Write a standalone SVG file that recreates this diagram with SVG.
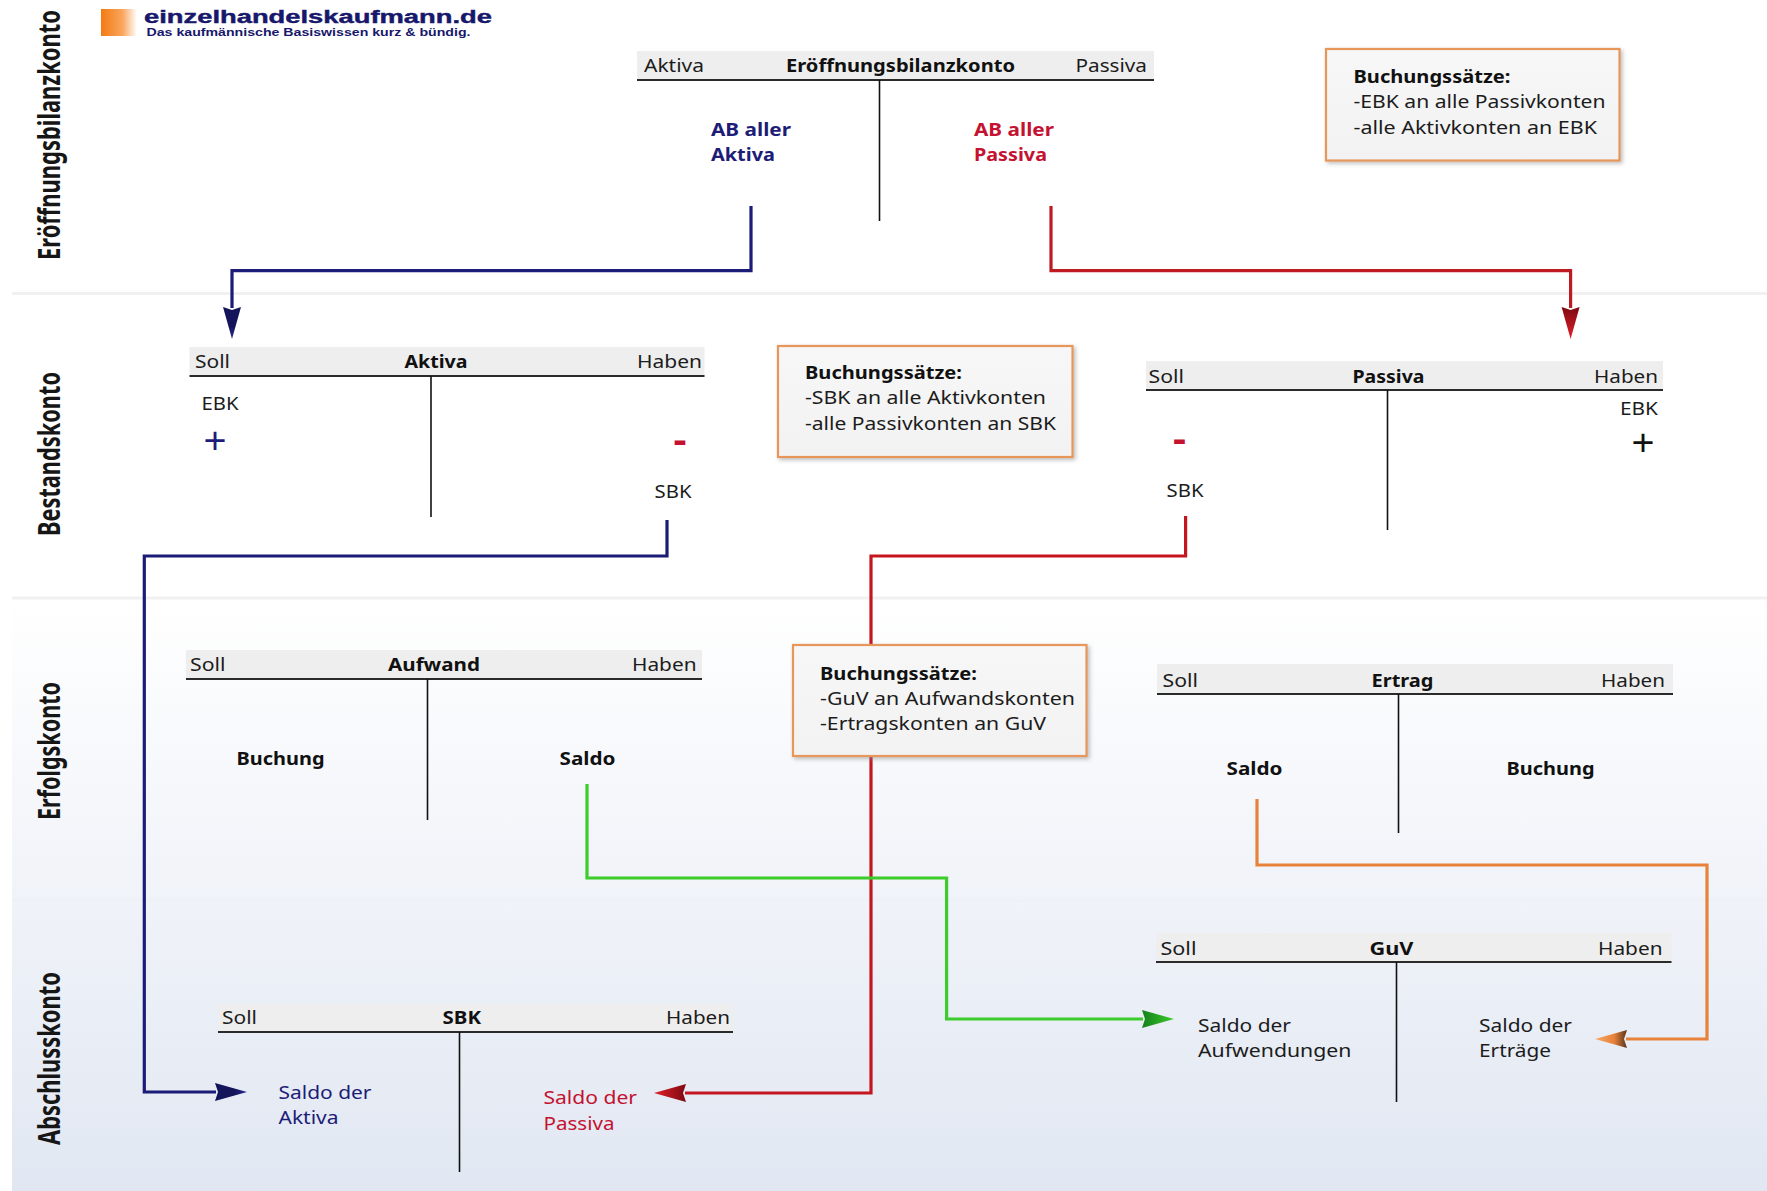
<svg xmlns="http://www.w3.org/2000/svg" width="1767" height="1191" viewBox="0 0 1767 1191">
<style>
text{font-family:"Noto Sans","Open Sans","Liberation Sans",sans-serif;font-size:17.5px;fill:#1c1c1c}
.b{font-weight:700;fill:#111}
.lane{font-size:20px;font-weight:700;fill:#161616}
.navy{fill:#1d1d78}
.red{fill:#c41230}
.sign{font-family:"Liberation Sans",sans-serif;font-size:36px;font-weight:700}
.plus{font-family:"Liberation Sans",sans-serif;font-size:36px}
.bar{fill:#eeeeee}
.rule{stroke:#2a2a2a;stroke-width:2;fill:none}
.stem{stroke:#111;stroke-width:1.6;fill:none}
.sep{stroke-width:3;fill:none}
.box{fill:url(#boxFill);stroke:#e8975a;stroke-width:2.2;filter:url(#sh)}
.c{fill:none;stroke-width:3.2;stroke-linejoin:miter}
</style>
<defs>
<linearGradient id="bg" x1="0" y1="0" x2="0" y2="1"><stop offset="0" stop-color="#ffffff"/><stop offset="1" stop-color="#e1e7f2"/></linearGradient>
<linearGradient id="boxFill" x1="0" y1="0" x2="0" y2="1"><stop offset="0" stop-color="#f7f7f7"/><stop offset="1" stop-color="#f2f2f2"/></linearGradient>
<linearGradient id="logoG" x1="0" y1="0" x2="1" y2="0"><stop offset="0" stop-color="#f47a12"/><stop offset="0.6" stop-color="#f9a65e"/><stop offset="1" stop-color="#ffffff"/></linearGradient>
<linearGradient id="gNavy"><stop offset="0" stop-color="#14145a"/><stop offset="0.6" stop-color="#14145a"/><stop offset="1" stop-color="#2a2a90"/></linearGradient>
<linearGradient id="gRed"><stop offset="0" stop-color="#7d0a12"/><stop offset="1" stop-color="#e3202a"/></linearGradient>
<linearGradient id="gGreen"><stop offset="0" stop-color="#15801a"/><stop offset="1" stop-color="#3ccc2c"/></linearGradient>
<linearGradient id="gOrange"><stop offset="0" stop-color="#5a3318"/><stop offset="0.4" stop-color="#e8813a"/><stop offset="1" stop-color="#f9a868"/></linearGradient>
<marker id="aNavy" markerUnits="userSpaceOnUse" markerWidth="33" markerHeight="20" refX="1" refY="10" orient="auto"><path d="M0 1L32 10L0 19L3 10Z" fill="url(#gNavy)"/></marker>
<marker id="aRed" markerUnits="userSpaceOnUse" markerWidth="33" markerHeight="20" refX="1" refY="10" orient="auto"><path d="M0 1L32 10L0 19L3 10Z" fill="url(#gRed)"/></marker>
<marker id="aGreen" markerUnits="userSpaceOnUse" markerWidth="33" markerHeight="20" refX="1" refY="10" orient="auto"><path d="M0 1L32 10L0 19L3 10Z" fill="url(#gGreen)"/></marker>
<marker id="aOrange" markerUnits="userSpaceOnUse" markerWidth="33" markerHeight="20" refX="1" refY="10" orient="auto"><path d="M0 1L32 10L0 19L3 10Z" fill="url(#gOrange)"/></marker>
<filter id="sh" x="-5%" y="-5%" width="112%" height="115%"><feDropShadow dx="2" dy="2" stdDeviation="2" flood-color="#888" flood-opacity="0.55"/></filter>
</defs>

<rect x="0" y="0" width="1767" height="1191" fill="#ffffff"/>
<rect x="12" y="598" width="1755" height="593" fill="url(#bg)"/>
<g id="separators">
<line class="sep" x1="12" y1="293.5" x2="1767" y2="293.5" stroke="#f1f1f1"/>
<line class="sep" x1="12" y1="598" x2="1767" y2="598" stroke="#f1f1f1"/>
<line class="sep" x1="12" y1="900.5" x2="1767" y2="900.5" stroke="#eef1f6"/>
</g>

<g id="lanes">
<text class="lane" transform="translate(60,260) rotate(-90) scale(1,1.5)" textLength="250" lengthAdjust="spacingAndGlyphs">Eröffnungsbilanzkonto</text>
<text class="lane" transform="translate(60,536) rotate(-90) scale(1,1.5)" textLength="164" lengthAdjust="spacingAndGlyphs">Bestandskonto</text>
<text class="lane" transform="translate(60,820) rotate(-90) scale(1,1.5)" textLength="138" lengthAdjust="spacingAndGlyphs">Erfolgskonto</text>
<text class="lane" transform="translate(60,1145) rotate(-90) scale(1,1.5)" textLength="173" lengthAdjust="spacingAndGlyphs">Abschlusskonto</text>
</g>

<g id="logo">
<rect x="101" y="9" width="36" height="27" fill="url(#logoG)"/>
<text x="144" y="23" textLength="348" lengthAdjust="spacingAndGlyphs" style="font-family:'Liberation Sans',sans-serif;font-size:18px;font-weight:700;fill:#17176b;stroke:#17176b;stroke-width:0.4">einzelhandelskaufmann.de</text>
<text x="146.500" y="35.500" textLength="324" lengthAdjust="spacingAndGlyphs" style="font-family:'Liberation Sans',sans-serif;font-size:10px;font-weight:700;fill:#17176b">Das kaufmännische Basiswissen kurz &amp; bündig.</text>
</g>

<g id="connectors">
<path class="c" stroke="#1b1b78" d="M751 206V270.700H232V308" marker-end="url(#aNavy)"/>
<path class="c" stroke="#bd1a24" d="M1051 206V270.700H1570.600V308" marker-end="url(#aRed)"/>
<path class="c" stroke="#1b1b78" d="M667 520V556H144.300V1092H216" marker-end="url(#aNavy)"/>
<path class="c" stroke="#c5161f" d="M1185.600 516V556H871V1093H685" marker-end="url(#aRed)"/>
<path class="c" stroke="#3ccc2c" d="M587 784V878H946.600V1019H1143" marker-end="url(#aGreen)"/>
<path class="c" stroke="#e8813a" d="M1257 799V865H1707V1039H1626" marker-end="url(#aOrange)"/>
</g>

<g id="ebk">
<rect class="bar" x="637" y="51" width="517" height="29"/>
<line class="rule" x1="637" y1="80" x2="1154" y2="80"/>
<line class="stem" x1="879.500" y1="80" x2="879.500" y2="221"/>
<text x="644" y="72" textLength="60" lengthAdjust="spacingAndGlyphs">Aktiva</text>
<text class="b" x="786" y="72" textLength="229" lengthAdjust="spacingAndGlyphs">Eröffnungsbilanzkonto</text>
<text x="1075.500" y="72" textLength="71.500" lengthAdjust="spacingAndGlyphs">Passiva</text>
<text class="b navy" x="711" y="136" textLength="80" lengthAdjust="spacingAndGlyphs">AB aller</text>
<text class="b navy" x="711" y="161" textLength="64" lengthAdjust="spacingAndGlyphs">Aktiva</text>
<text class="b red" x="974" y="136" textLength="80" lengthAdjust="spacingAndGlyphs">AB aller</text>
<text class="b red" x="974" y="161" textLength="73" lengthAdjust="spacingAndGlyphs">Passiva</text>
</g>

<g id="note-ebk">
<rect class="box" x="1326" y="49" width="293.500" height="111.500"/>
<text class="b" x="1353.500" y="83" textLength="157" lengthAdjust="spacingAndGlyphs">Buchungssätze:</text>
<text x="1353.500" y="108" textLength="252" lengthAdjust="spacingAndGlyphs">-EBK an alle Passivkonten</text>
<text x="1353.500" y="133.500" textLength="243.500" lengthAdjust="spacingAndGlyphs">-alle Aktivkonten an EBK</text>
</g>

<g id="aktiva">
<rect class="bar" x="189.500" y="347" width="515" height="29"/>
<line class="rule" x1="189.500" y1="376" x2="704.500" y2="376"/>
<line class="stem" x1="431" y1="376" x2="431" y2="517"/>
<text x="195" y="368" textLength="35" lengthAdjust="spacingAndGlyphs">Soll</text>
<text class="b" x="404.500" y="368" textLength="63" lengthAdjust="spacingAndGlyphs">Aktiva</text>
<text x="637" y="368" textLength="65" lengthAdjust="spacingAndGlyphs">Haben</text>
<text x="201.500" y="409.500" textLength="37" lengthAdjust="spacingAndGlyphs">EBK</text>
<text class="plus navy" x="203.500" y="453" textLength="23" lengthAdjust="spacingAndGlyphs">+</text>
<text class="sign red" x="673" y="452" textLength="14" lengthAdjust="spacingAndGlyphs">-</text>
<text x="654.500" y="498" textLength="37" lengthAdjust="spacingAndGlyphs">SBK</text>
</g>

<g id="note-bestand">
<rect class="box" x="778" y="346" width="294.500" height="111"/>
<text class="b" x="805" y="379" textLength="157" lengthAdjust="spacingAndGlyphs">Buchungssätze:</text>
<text x="805" y="404" textLength="241" lengthAdjust="spacingAndGlyphs">-SBK an alle Aktivkonten</text>
<text x="805" y="429.500" textLength="251" lengthAdjust="spacingAndGlyphs">-alle Passivkonten an SBK</text>
</g>

<g id="passiva">
<rect class="bar" x="1146" y="361" width="517" height="29"/>
<line class="rule" x1="1146" y1="390" x2="1663" y2="390"/>
<line class="stem" x1="1387.500" y1="390" x2="1387.500" y2="530"/>
<text x="1148.500" y="383" textLength="35.500" lengthAdjust="spacingAndGlyphs">Soll</text>
<text class="b" x="1352.500" y="383" textLength="72" lengthAdjust="spacingAndGlyphs">Passiva</text>
<text x="1594" y="383" textLength="64" lengthAdjust="spacingAndGlyphs">Haben</text>
<text x="1620" y="415" textLength="38" lengthAdjust="spacingAndGlyphs">EBK</text>
<text class="plus" x="1631.500" y="455" textLength="23" lengthAdjust="spacingAndGlyphs" style="fill:#111">+</text>
<text class="sign red" x="1172.500" y="451" textLength="14" lengthAdjust="spacingAndGlyphs">-</text>
<text x="1166.500" y="496.500" textLength="37" lengthAdjust="spacingAndGlyphs">SBK</text>
</g>

<g id="aufwand">
<rect class="bar" x="186" y="650" width="516" height="29"/>
<line class="rule" x1="186" y1="679" x2="702" y2="679"/>
<line class="stem" x1="427.500" y1="679" x2="427.500" y2="820"/>
<text x="190" y="671" textLength="35.500" lengthAdjust="spacingAndGlyphs">Soll</text>
<text class="b" x="388" y="671" textLength="92" lengthAdjust="spacingAndGlyphs">Aufwand</text>
<text x="632" y="671" textLength="64.500" lengthAdjust="spacingAndGlyphs">Haben</text>
<text class="b" x="236.500" y="765" textLength="88" lengthAdjust="spacingAndGlyphs">Buchung</text>
<text class="b" x="559.500" y="765" textLength="56" lengthAdjust="spacingAndGlyphs">Saldo</text>
</g>

<g id="note-erfolg">
<rect class="box" x="793" y="645" width="293.500" height="111"/>
<text class="b" x="820" y="679.500" textLength="157" lengthAdjust="spacingAndGlyphs">Buchungssätze:</text>
<text x="820" y="704.500" textLength="255" lengthAdjust="spacingAndGlyphs">-GuV an Aufwandskonten</text>
<text x="820" y="729.500" textLength="226" lengthAdjust="spacingAndGlyphs">-Ertragskonten an GuV</text>
</g>

<g id="ertrag">
<rect class="bar" x="1157" y="664" width="516" height="30"/>
<line class="rule" x1="1157" y1="694" x2="1673" y2="694"/>
<line class="stem" x1="1398.500" y1="694" x2="1398.500" y2="833"/>
<text x="1162.500" y="686.500" textLength="35.500" lengthAdjust="spacingAndGlyphs">Soll</text>
<text class="b" x="1371.500" y="686.500" textLength="62" lengthAdjust="spacingAndGlyphs">Ertrag</text>
<text x="1601" y="686.500" textLength="64" lengthAdjust="spacingAndGlyphs">Haben</text>
<text class="b" x="1226.500" y="775" textLength="56" lengthAdjust="spacingAndGlyphs">Saldo</text>
<text class="b" x="1506.500" y="775" textLength="88" lengthAdjust="spacingAndGlyphs">Buchung</text>
</g>

<g id="guv">
<rect class="bar" x="1156" y="933" width="515.500" height="29"/>
<line class="rule" x1="1156" y1="962" x2="1671.500" y2="962"/>
<line class="stem" x1="1396.500" y1="962" x2="1396.500" y2="1102"/>
<text x="1160.500" y="955" textLength="36" lengthAdjust="spacingAndGlyphs">Soll</text>
<text class="b" x="1369.500" y="955" textLength="44" lengthAdjust="spacingAndGlyphs">GuV</text>
<text x="1598" y="955" textLength="64.500" lengthAdjust="spacingAndGlyphs">Haben</text>
<text x="1198" y="1032" textLength="93" lengthAdjust="spacingAndGlyphs">Saldo der</text>
<text x="1198" y="1057" textLength="153.500" lengthAdjust="spacingAndGlyphs">Aufwendungen</text>
<text x="1479" y="1032" textLength="93" lengthAdjust="spacingAndGlyphs">Saldo der</text>
<text x="1479" y="1057" textLength="72" lengthAdjust="spacingAndGlyphs">Erträge</text>
</g>

<g id="sbk">
<rect class="bar" x="218" y="1004" width="515" height="28"/>
<line class="rule" x1="218" y1="1032" x2="733" y2="1032"/>
<line class="stem" x1="459.500" y1="1032" x2="459.500" y2="1172"/>
<text x="222" y="1024" textLength="35" lengthAdjust="spacingAndGlyphs">Soll</text>
<text class="b" x="442.500" y="1024" textLength="38.500" lengthAdjust="spacingAndGlyphs">SBK</text>
<text x="666" y="1024" textLength="64" lengthAdjust="spacingAndGlyphs">Haben</text>
<text class="navy" x="278.500" y="1099" textLength="93" lengthAdjust="spacingAndGlyphs">Saldo der</text>
<text class="navy" x="278.500" y="1124" textLength="60" lengthAdjust="spacingAndGlyphs">Aktiva</text>
<text class="red" x="543.500" y="1104" textLength="93.500" lengthAdjust="spacingAndGlyphs">Saldo der</text>
<text class="red" x="543.500" y="1130" textLength="71" lengthAdjust="spacingAndGlyphs">Passiva</text>
</g>
</svg>
